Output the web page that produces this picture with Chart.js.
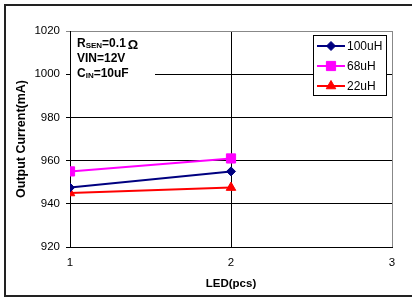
<!DOCTYPE html>
<html>
<head>
<meta charset="utf-8">
<script src="https://cdn.jsdelivr.net/npm/chart.js@4/dist/chart.umd.min.js"></script>
<style>
  html, body { margin: 0; padding: 0; background: #fff; }
  #wrap { width: 412px; height: 300px; position: relative; }
</style>
</head>
<body>
<div id="wrap"><canvas id="ledChart"></canvas></div>
<script>
// ---- data ----
const ledCount = [1, 2];
const seriesLabels = ['100uH', '68uH', '22uH'];
const current100uH = [947.5, 955];
const current68uH = [955, 961];
const current22uH = [945, 947.5];
const xTickValues = [1, 2, 3];
const yTickValues = [920, 940, 960, 980, 1000, 1020];
const conditionLines = [
    { main: 'R', sub: 'SEN', rest: '=0.1', sym: '\u03A9' },
    { main: 'VIN=12V', sub: '', rest: '', sym: '' },
    { main: 'C', sub: 'IN', rest: '=10uF', sym: '' }
];

const FONT = "'Liberation Sans', Arial, sans-serif";

function toPoints(values) {
    return ledCount.map((x, i) => ({ x: x, y: values[i] }));
}

function series(label, values, color, style, radius) {
    return {
        label: label,
        data: toPoints(values),
        borderColor: color,
        backgroundColor: color,
        borderWidth: 2,
        tension: 0,
        pointStyle: style,
        pointRadius: radius,
        pointHoverRadius: radius,
        pointBackgroundColor: color,
        pointBorderColor: color,
        pointBorderWidth: 1
    };
}

// outer frame, condition box and legend box are drawn by hand
const framePlugin = {
    id: 'frame',
    beforeDraw(chart) {
        const ctx = chart.ctx;
        ctx.save();
        ctx.fillStyle = '#fff';
        ctx.fillRect(0, 0, chart.width, chart.height);
        ctx.strokeStyle = '#222';
        ctx.lineWidth = 2;
        ctx.strokeRect(5, 5, 430, 291);
        ctx.restore();
    },
    afterDraw(chart) {
        const ctx = chart.ctx;
        ctx.save();

        // conditions block
        ctx.fillStyle = '#fff';
        ctx.fillRect(71, 33, 84, 50);
        ctx.fillStyle = '#000';
        ctx.textBaseline = 'middle';
        conditionLines.forEach((ln, i) => {
            const y = 44 + i * 15;
            let x = 77;
            ctx.font = 'bold 12px ' + FONT;
            ctx.fillText(ln.main, x, y);
            x += ctx.measureText(ln.main).width;
            if (ln.sub) {
                ctx.font = 'bold 8px ' + FONT;
                ctx.fillText(ln.sub, x, y + 2);
                x += ctx.measureText(ln.sub).width;
            }
            if (ln.rest) {
                ctx.font = 'bold 12px ' + FONT;
                ctx.fillText(ln.rest, x, y);
                x += ctx.measureText(ln.rest).width + 2;
            }
            if (ln.sym) {
                ctx.font = 'bold 13px ' + FONT;
                ctx.fillText(ln.sym, x, y + 1);
            }
        });

        // legend
        ctx.fillStyle = '#fff';
        ctx.fillRect(313, 35, 73, 60);
        ctx.strokeStyle = '#000';
        ctx.lineWidth = 1;
        ctx.strokeRect(313.5, 35.5, 73, 60);
        chart.data.datasets.forEach((ds, i) => {
            const y = 46 + i * 20;
            ctx.strokeStyle = ds.borderColor;
            ctx.lineWidth = 2;
            ctx.beginPath();
            ctx.moveTo(317, y);
            ctx.lineTo(345, y);
            ctx.stroke();
            ctx.fillStyle = ds.pointBackgroundColor;
            ctx.strokeStyle = ds.pointBorderColor;
            ctx.lineWidth = 1;
            Chart.helpers.drawPoint(ctx, {
                pointStyle: ds.pointStyle,
                radius: ds.pointRadius,
                rotation: 0,
                borderWidth: 1
            }, 331, y);
            ctx.fillStyle = '#000';
            ctx.font = '12px ' + FONT;
            ctx.textBaseline = 'middle';
            ctx.fillText(ds.label, 347, y + 1);
        });
        ctx.restore();
    }
};

new Chart(document.getElementById('ledChart'), {
    type: 'line',
    data: {
        datasets: [
            series(seriesLabels[0], current100uH, '#000080', 'rectRot', 4.5),
            series(seriesLabels[1], current68uH, '#ff00ff', 'rect', 6.5),
            series(seriesLabels[2], current22uH, '#ff0000', 'triangle', 5.5)
        ]
    },
    options: {
        responsive: true,
        maintainAspectRatio: false,
        animation: false,
        layout: { padding: { left: 0, right: 20, top: 31, bottom: 0 } },
        plugins: {
            legend: { display: false },
            tooltip: { enabled: false }
        },
        scales: {
            x: {
                type: 'linear',
                min: 1,
                max: 3,
                afterFit: (s) => { s.height = 53; },
                afterBuildTicks: (s) => { s.ticks = xTickValues.map(v => ({ value: v })); },
                grid: {
                    drawTicks: false,
                    lineWidth: 1,
                    color: (c) => (c.tick && c.tick.value === 3) ? '#888' : '#000'
                },
                border: { color: '#000', width: 1 },
                ticks: {
                    color: '#000',
                    padding: 9,
                    font: { family: FONT, size: 11.5 },
                    callback: (v) => String(v)
                },
                title: {
                    display: true,
                    text: 'LED(pcs)',
                    color: '#000',
                    font: { family: FONT, size: 11.5, weight: 'bold' },
                    padding: { top: 0, bottom: 9 }
                }
            },
            y: {
                min: 920,
                max: 1020,
                afterFit: (s) => { s.width = 70; },
                afterBuildTicks: (s) => { s.ticks = yTickValues.map(v => ({ value: v })); },
                grid: {
                    drawTicks: true,
                    tickLength: 4,
                    lineWidth: 1,
                    color: (c) => (c.tick && c.tick.value === 1020) ? '#888' : '#000'
                },
                border: { color: '#000', width: 1 },
                ticks: {
                    color: '#000',
                    padding: 6,
                    font: { family: FONT, size: 11.5 },
                    callback: (v) => String(v)
                },
                title: {
                    display: true,
                    text: 'Output Current(mA)',
                    color: '#000',
                    font: { family: FONT, size: 12.5, weight: 'bold' },
                    padding: { top: 14, bottom: 0 }
                }
            }
        }
    },
    plugins: [framePlugin]
});
</script>
</body>
</html>
